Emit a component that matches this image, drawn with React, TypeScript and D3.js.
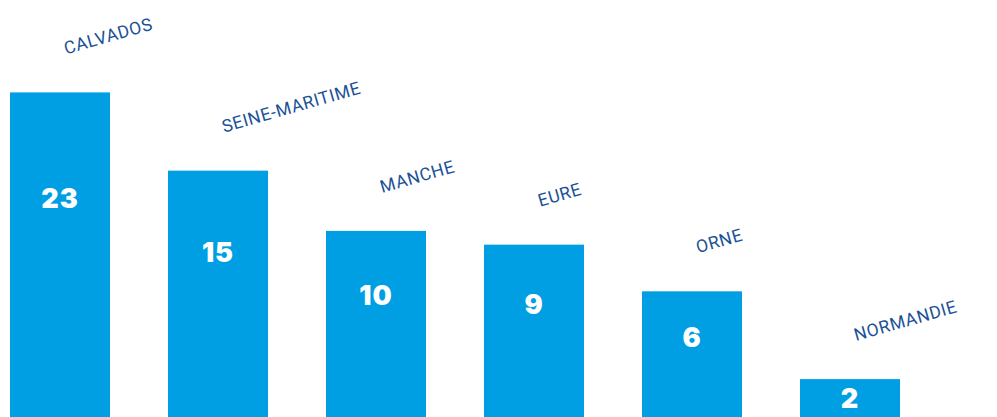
import React from "react";
import * as d3 from "d3";

const categories: string[] = ["CALVADOS", "SEINE-MARITIME", "MANCHE", "EURE", "ORNE", "NORMANDIE"];
const values: number[] = [23, 15, 10, 9, 6, 2];

const W = 997;
const H = 417;
const BAR_COLOR = "#009fe3";
const LABEL_COLOR = "#1b5196";

export default function App() {
  const x = d3
    .scaleBand<string>()
    .domain(categories)
    .range([10, 900])
    .paddingInner(58 / 158)
    .paddingOuter(0);

  const y = d3.scaleSqrt().domain([0, 23]).range([499, 92.4]);

  return (
    <div style={{ position: "absolute", left: 0, top: 0 }}>
      <svg width={W} height={H} style={{ display: "block", background: "#ffffff" }}>
        {categories.map((c, i) => {
          const v = values[i];
          const bx = x(c) as number;
          const bw = x.bandwidth();
          const top = y(v);
          const labelY = top + 0.3 * (445 - top);
          const lx = bx + 56;
          const ly = top - 38;
          return (
            <g key={c}>
              <rect x={bx} y={top} width={bw} height={H - top} fill={BAR_COLOR} />
              <text
                x={bx + bw / 2}
                y={labelY}
                textAnchor="middle"
                dominantBaseline="central"
                fill="#ffffff"
                fontFamily="Inter, 'Noto Sans', sans-serif"
                fontWeight={900}
                fontSize={27}
                letterSpacing={1}
              >
                {v}
              </text>
              <text
                x={lx}
                y={ly}
                transform={`rotate(-16, ${lx}, ${ly})`}
                fill={LABEL_COLOR}
                fontFamily="Roboto, 'Noto Sans', sans-serif"
                fontSize={17.5}
                letterSpacing={0.6}
              >
                {c}
              </text>
            </g>
          );
        })}
      </svg>
    </div>
  );
}
